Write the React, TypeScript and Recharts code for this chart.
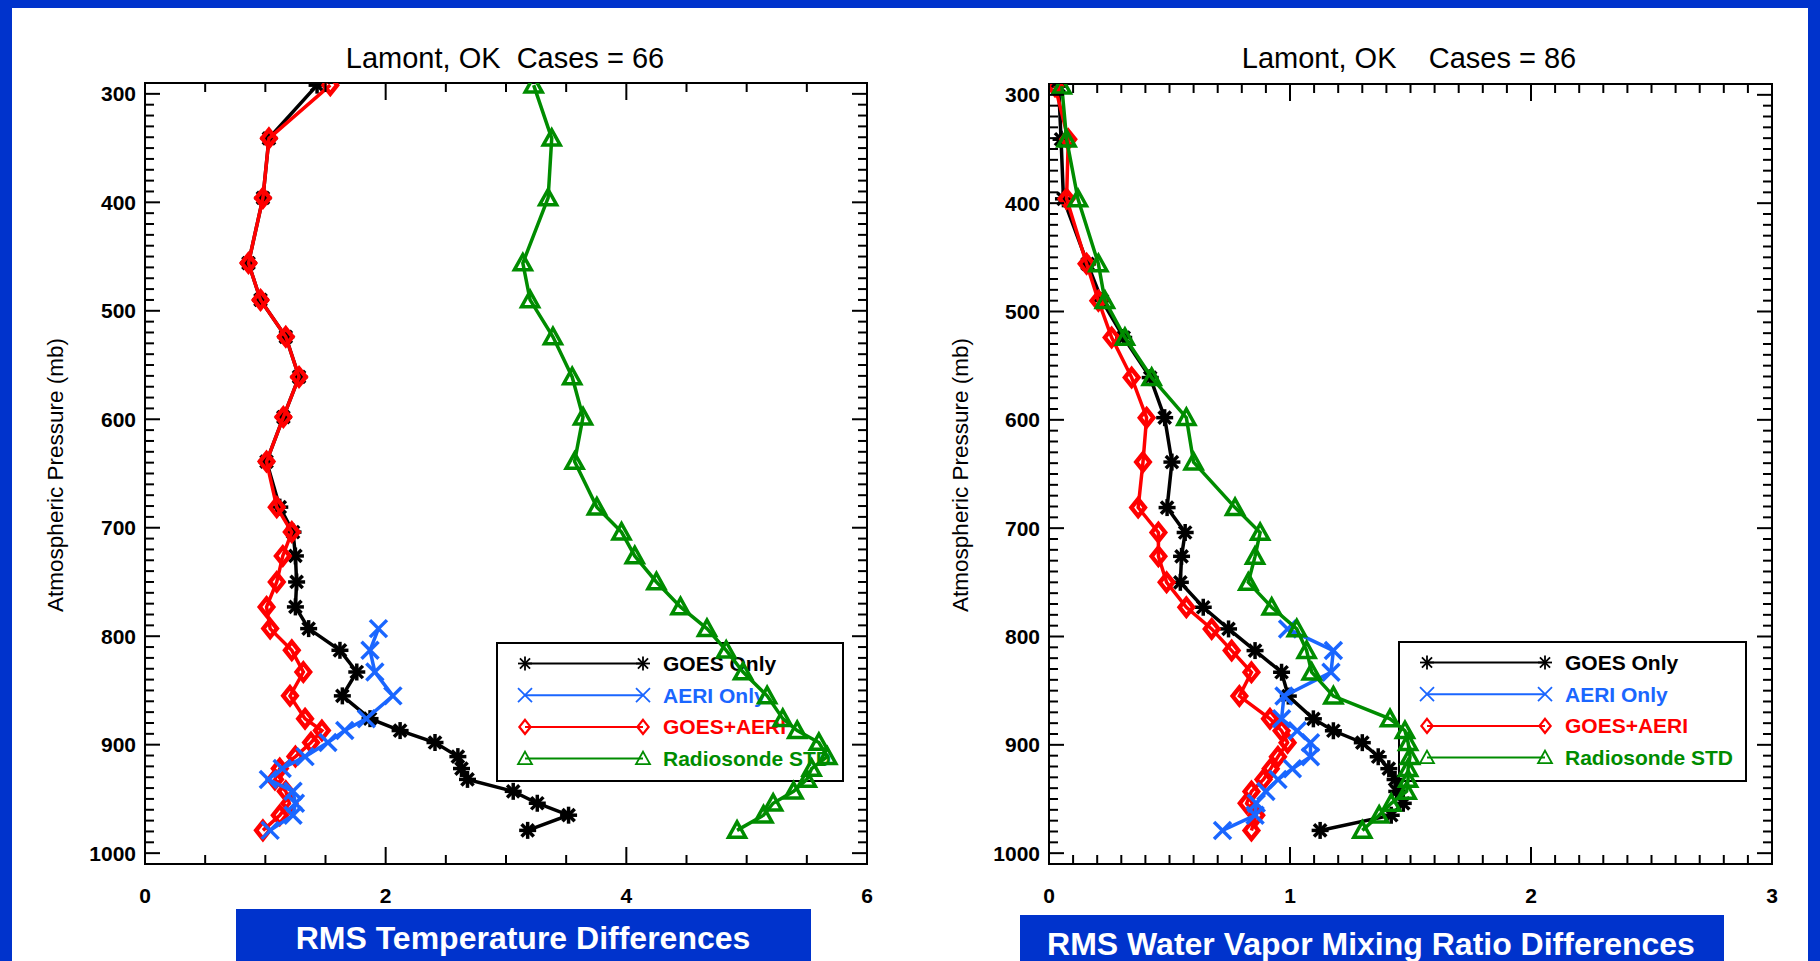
import React from "react";
import { ScatterChart, Scatter, XAxis, YAxis, ReferenceArea } from "recharts";

// pressure levels (mb) shared by all profiles
const levels = [292, 341, 396, 456, 490, 524, 561, 598, 639, 681, 704, 726, 750, 773, 793, 813, 833, 855, 876, 887, 898, 911, 922, 932, 943, 954, 965, 979];

// RMS temperature differences
const tempGoes = [1.43, 1.03, 0.98, 0.86, 0.96, 1.17, 1.28, 1.15, 1.01, 1.12, 1.23, 1.25, 1.26, 1.25, 1.36, 1.62, 1.76, 1.64, 1.87, 2.12, 2.41, 2.6, 2.63, 2.68, 3.06, 3.26, 3.52, 3.18];
const tempAeri = [null, null, null, null, null, null, null, null, null, null, null, null, null, null, 1.94, 1.87, 1.91, 2.06, 1.84, 1.66, 1.52, 1.33, 1.14, 1.025, 1.23, 1.25, 1.23, 1.04];
const tempGoesAeri = [1.54, 1.03, 0.98, 0.86, 0.96, 1.17, 1.28, 1.15, 1.01, 1.095, 1.22, 1.145, 1.095, 1.01, 1.04, 1.22, 1.316, 1.205, 1.33, 1.47, 1.38, 1.25, 1.12, 1.08, 1.17, 1.2, 1.12, 0.98];
const tempRaob = [3.23, 3.38, 3.35, 3.14, 3.2, 3.39, 3.55, 3.64, 3.57, 3.755, 3.96, 4.07, 4.25, 4.45, 4.67, 4.83, 4.97, 5.17, 5.3, 5.42, 5.6, 5.67, 5.54, 5.5, 5.39, 5.22, 5.14, 4.92];

// RMS water vapor mixing ratio differences
const wvGoes = [0.04, 0.05, 0.06, 0.16, 0.22, 0.31, 0.42, 0.48, 0.51, 0.49, 0.565, 0.55, 0.545, 0.64, 0.745, 0.855, 0.965, 0.993, 1.097, 1.18, 1.3, 1.366, 1.41, 1.436, 1.443, 1.47, 1.42, 1.125];
const wvAeri = [null, null, null, null, null, null, null, null, null, null, null, null, null, null, 0.99, 1.18, 1.17, 0.975, 0.965, 1.03, 1.085, 1.085, 1.01, 0.95, 0.9, 0.86, 0.855, 0.72];
const wvGoesAeri = [0.025, 0.08, 0.073, 0.156, 0.205, 0.26, 0.343, 0.405, 0.39, 0.37, 0.454, 0.454, 0.488, 0.57, 0.675, 0.758, 0.84, 0.79, 0.917, 0.965, 0.99, 0.95, 0.92, 0.89, 0.84, 0.82, 0.86, 0.84];
const wvRaob = [0.053, 0.073, 0.12, 0.205, 0.232, 0.315, 0.426, 0.57, 0.6, 0.772, 0.876, 0.855, 0.827, 0.924, 1.028, 1.069, 1.09, 1.18, 1.415, 1.477, 1.49, 1.498, 1.49, 1.49, 1.484, 1.42, 1.37, 1.3];

const pressureTicks = [300, 400, 500, 600, 700, 800, 900, 1000];
const tempTicks = [0, 2, 4, 6];
const wvTicks = [0, 1, 2, 3];

const seriesNames = ["GOES Only", "AERI Only", "GOES+AERI", "Radiosonde STD"];
const seriesColors = ["#000000", "#1a66ff", "#ff0000", "#008c00"];
const seriesMarks = ["asterisk", "cross", "diamond", "triangle"];

const FRAME = "#0033cc";
const FONT = "'Liberation Sans', Arial, Helvetica, sans-serif";
const P_DOMAIN: [number, number] = [290, 1010];

const profile = (vals: (number | null)[]) =>
  levels.map((p, i) => ({ p, v: vals[i] })).filter((d) => d.v !== null);

const steps = (from: number, to: number, n: number) => {
  const out: number[] = [];
  for (let i = 0; i <= n; i++) out.push(from + ((to - from) * i) / n);
  return out;
};

function Mark({ kind, cx, cy, color, r, sw }: any) {
  if (kind === "asterisk") {
    const d = r * 0.72;
    return (
      <g stroke={color} strokeWidth={sw}>
        <line x1={cx - r} y1={cy} x2={cx + r} y2={cy} />
        <line x1={cx} y1={cy - r} x2={cx} y2={cy + r} />
        <line x1={cx - d} y1={cy - d} x2={cx + d} y2={cy + d} />
        <line x1={cx - d} y1={cy + d} x2={cx + d} y2={cy - d} />
      </g>
    );
  }
  if (kind === "cross") {
    return (
      <g stroke={color} strokeWidth={sw}>
        <line x1={cx - r} y1={cy - r} x2={cx + r} y2={cy + r} />
        <line x1={cx - r} y1={cy + r} x2={cx + r} y2={cy - r} />
      </g>
    );
  }
  if (kind === "diamond") {
    return (
      <polygon
        points={`${cx},${cy - r} ${cx + r * 0.8},${cy} ${cx},${cy + r} ${cx - r * 0.8},${cy}`}
        fill="none"
        stroke={color}
        strokeWidth={sw * 1.25}
      />
    );
  }
  return (
    <polygon
      points={`${cx},${cy - r} ${cx + r},${cy + r * 0.8} ${cx - r},${cy + r * 0.8}`}
      fill="none"
      stroke={color}
      strokeWidth={sw}
    />
  );
}

const tickText = { fontFamily: FONT, fontSize: 21, fontWeight: 700, fill: "#000" };

function makeXTick(majors: number[], plotH: number) {
  return (props: any) => {
    const { x, y, payload } = props;
    const v = payload.value;
    const major = majors.some((m) => Math.abs(m - v) < 1e-6);
    const len = major ? 17 : 9;
    return (
      <g>
        <line x1={x} y1={y} x2={x} y2={y - len} stroke="#000" strokeWidth={2} />
        <line x1={x} y1={y - plotH} x2={x} y2={y - plotH + len} stroke="#000" strokeWidth={2} />
        {major && (
          <text x={x} y={y + 31} textAnchor="middle" dominantBaseline="central" {...tickText}>
            {Math.round(v)}
          </text>
        )}
      </g>
    );
  };
}

function makeYTick(plotW: number) {
  return (props: any) => {
    const { x, y, payload } = props;
    const v = payload.value;
    const major = pressureTicks.includes(Math.round(v)) && Math.abs(v - Math.round(v)) < 1e-6;
    const len = major ? 15 : 9;
    return (
      <g>
        <line x1={x} y1={y} x2={x + len} y2={y} stroke="#000" strokeWidth={2} />
        <line x1={x + plotW} y1={y} x2={x + plotW - len} y2={y} stroke="#000" strokeWidth={2} />
        {major && (
          <text x={x - 9} y={y} textAnchor="end" dominantBaseline="central" {...tickText}>
            {Math.round(v)}
          </text>
        )}
      </g>
    );
  };
}

function ProfileLegend({ left, top, width, height }: any) {
  return (
    <svg width={width} height={height} style={{ position: "absolute", left, top, overflow: "visible" }}>
      <rect x={1} y={1} width={width - 2} height={height - 2} fill="none" stroke="#000" strokeWidth={2} />
      {seriesNames.map((name, i) => {
        const cy = 21.5 + i * 31.7;
        return (
          <g key={name}>
            <line x1={29} y1={cy} x2={147} y2={cy} stroke={seriesColors[i]} strokeWidth={2} />
            <Mark kind={seriesMarks[i]} cx={29} cy={cy} color={seriesColors[i]} r={7} sw={1.8} />
            <Mark kind={seriesMarks[i]} cx={147} cy={cy} color={seriesColors[i]} r={7} sw={1.8} />
            <text x={167} y={cy} dominantBaseline="central" fill={seriesColors[i]} fontFamily={FONT} fontSize={21} fontWeight={700}>
              {name}
            </text>
          </g>
        );
      })}
    </svg>
  );
}

function CenterText({ x, y, size, children, color = "#000", rotate = false, bold = true }: any) {
  return (
    <div
      style={{
        position: "absolute",
        left: x,
        top: y,
        transform: `translate(-50%, -50%)${rotate ? " rotate(-90deg)" : ""}`,
        fontFamily: FONT,
        fontSize: size,
        fontWeight: bold ? 700 : 400,
        lineHeight: 1,
        whiteSpace: "pre",
        color,
      }}
    >
      {children}
    </div>
  );
}

type PanelProps = {
  left: number;
  plotLeft: number;
  plotRight: number;
  plotTop: number;
  plotBottom: number;
  xMax: number;
  xMinorCount: number;
  xMajor: number[];
  series: (number | null)[][];
};

function ProfilePanel({ left, plotLeft, plotRight, plotTop, plotBottom, xMax, xMinorCount, xMajor, series }: PanelProps) {
  const W = 910;
  const H = 961;
  const plotW = plotRight - plotLeft;
  const plotH = plotBottom - plotTop;
  const [goes, aeri, goesAeri, raob] = series;
  // draw order: GOES, GOES+AERI, AERI, radiosonde
  const order = [
    { idx: 0, vals: goes },
    { idx: 2, vals: goesAeri },
    { idx: 1, vals: aeri },
    { idx: 3, vals: raob },
  ];
  return (
    <div style={{ position: "absolute", left, top: 0, width: W, height: H }}>
      <ScatterChart
        width={W}
        height={H}
        margin={{ top: plotTop, left: plotLeft - left - 1, right: left + W - plotRight, bottom: H - plotBottom - 1 }}
      >
        <XAxis
          type="number"
          dataKey="v"
          domain={[0, xMax]}
          allowDataOverflow
          ticks={steps(0, xMax, xMinorCount)}
          interval={0}
          height={1}
          tickSize={0}
          tickMargin={0}
          axisLine={false}
          tickLine={false}
          tick={makeXTick(xMajor, plotH)}
        />
        <YAxis
          type="number"
          dataKey="p"
          domain={P_DOMAIN}
          reversed
          allowDataOverflow
          ticks={steps(300, 1000, 70)}
          interval={0}
          width={1}
          tickSize={0}
          tickMargin={0}
          axisLine={false}
          tickLine={false}
          tick={makeYTick(plotW)}
        />
        {order.map(({ idx, vals }) => (
          <Scatter
            key={seriesNames[idx]}
            name={seriesNames[idx]}
            data={profile(vals)}
            line={{ stroke: seriesColors[idx], strokeWidth: 3.5 }}
            lineType="joint"
            isAnimationActive={false}
            shape={(p: any) => <Mark kind={seriesMarks[idx]} cx={p.cx} cy={p.cy} color={seriesColors[idx]} r={8.5} sw={3.5} />}
          />
        ))}
        <ReferenceArea
          x1={0}
          x2={xMax}
          y1={P_DOMAIN[0]}
          y2={P_DOMAIN[1]}
          fill="none"
          fillOpacity={0}
          stroke="#000"
          strokeWidth={2}
          ifOverflow="visible"
        />
      </ScatterChart>
    </div>
  );
}

export default function App() {
  return (
    <div style={{ position: "absolute", left: 0, top: 0, width: 1820, height: 961, background: "#fff", overflow: "hidden" }}>
      <div style={{ position: "absolute", left: 0, top: 0, width: 1820, height: 8, background: FRAME }} />
      <div style={{ position: "absolute", left: 0, top: 0, width: 12, height: 961, background: FRAME }} />
      <div style={{ position: "absolute", left: 1808, top: 0, width: 12, height: 961, background: FRAME }} />

      <CenterText x={505} y={58} size={29} bold={false}>{"Lamont, OK  Cases = 66"}</CenterText>
      <CenterText x={1409} y={58} size={29} bold={false}>{"Lamont, OK    Cases = 86"}</CenterText>
      <CenterText x={56} y={475} size={22.5} rotate bold={false}>Atmospheric Pressure (mb)</CenterText>
      <CenterText x={961} y={475} size={22.5} rotate bold={false}>Atmospheric Pressure (mb)</CenterText>

      <ProfileLegend left={496} top={642} width={348} height={140} />
      <ProfileLegend left={1398} top={641} width={349} height={141} />

      <ProfilePanel
        left={0}
        plotLeft={145}
        plotRight={867}
        plotTop={83}
        plotBottom={864}
        xMax={6}
        xMinorCount={12}
        xMajor={tempTicks}
        series={[tempGoes, tempAeri, tempGoesAeri, tempRaob]}
      />
      <ProfilePanel
        left={910}
        plotLeft={1049}
        plotRight={1772}
        plotTop={84}
        plotBottom={864}
        xMax={3}
        xMinorCount={30}
        xMajor={wvTicks}
        series={[wvGoes, wvAeri, wvGoesAeri, wvRaob]}
      />

      <div style={{ position: "absolute", left: 236, top: 909, width: 575, height: 52, background: FRAME }} />
      <div style={{ position: "absolute", left: 1020, top: 915, width: 704, height: 46, background: FRAME }} />
      <CenterText x={523} y={938} size={32} color="#fff">RMS Temperature Differences</CenterText>
      <CenterText x={1371} y={944} size={32} color="#fff">RMS Water Vapor Mixing Ratio Differences</CenterText>
    </div>
  );
}
